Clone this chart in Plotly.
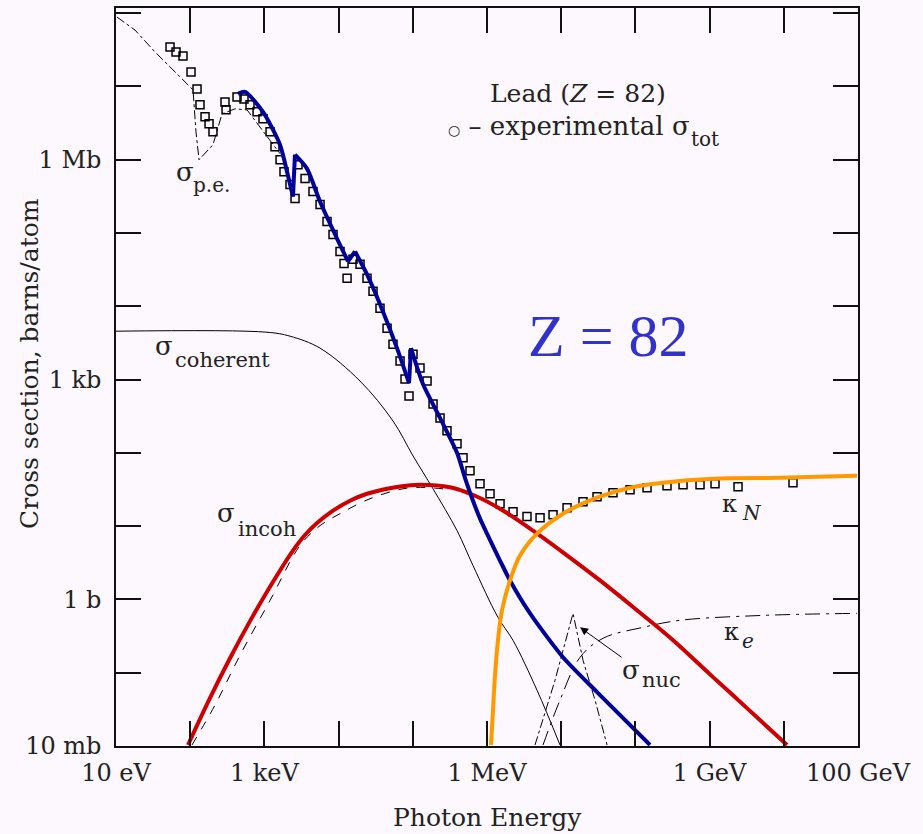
import numpy as np
import plotly.graph_objects as go

# All values are log10(E / eV) and log10(sigma / barn)
tot_fit_logE = [2.644, 2.739, 2.981, 3.210, 3.305, 3.385, 3.412, 3.574, 3.749, 3.978, 4.127,
                4.221, 4.383, 4.558, 4.787, 4.949, 4.976, 5.137, 5.367, 5.596, 5.703, 5.811, 5.906,
                6.000, 6.175, 6.310, 6.580, 7.024, 7.483, 8.197]
tot_fit_logS = [6.898, 6.925, 6.653, 6.204, 5.837, 5.497, 6.068, 5.878, 5.429, 4.925, 4.612,
                4.748, 4.435, 4.027, 3.429, 2.952, 3.429, 2.939, 2.476, 2.000, 1.660, 1.347, 1.102,
                0.898, 0.531, 0.259, -0.190, -0.789, -1.265, -1.986]
# absorption edges (M, L, K): index of the point at the bottom of each edge
edge_bottoms = [5, 10, 15]

incoh_fit_logE = [1.970, 2.253, 2.536, 2.819, 3.102, 3.385, 3.547, 3.709, 3.925, 4.154, 4.383,
                  4.828, 5.097, 5.501, 5.838, 6.175, 6.620, 7.000, 7.523, 8.000, 8.500, 9.046,
                  9.500, 10.043]
incoh_fit_logS = [-1.986, -1.374, -0.803, -0.272, 0.218, 0.667, 0.879, 1.042, 1.211, 1.347, 1.442,
                  1.542, 1.565, 1.531, 1.415, 1.238, 0.939, 0.660, 0.259, -0.130, -0.550, -1.060,
                  -1.480, -1.986]

pair_fit_logE = [6.054, 6.081, 6.108, 6.148, 6.202, 6.310, 6.445, 6.674, 7.024, 7.482, 7.927,
                 8.372, 9.046, 9.949, 10.987]
pair_fit_logS = [-1.986, -1.510, -1.034, -0.558, -0.150, 0.259, 0.599, 0.898, 1.170, 1.388, 1.524,
                 1.592, 1.646, 1.660, 1.687]

coh_logE = [1.0, 3.035, 3.345, 3.749, 4.288, 4.733, 5.003, 5.272, 5.596, 5.811, 6.148, 6.350,
            6.674, 6.984]
coh_logS = [3.660, 3.646, 3.592, 3.429, 2.980, 2.435, 1.959, 1.510, 0.939, 0.463, -0.245, -0.558,
            -1.238, -1.986]

incoh_logE = [2.024, 2.334, 2.671, 3.076, 3.480, 3.750, 4.019, 4.423, 4.963, 5.501]
incoh_logS = [-1.986, -1.442, -0.762, -0.014, 0.735, 1.007, 1.170, 1.374, 1.524, 1.497]

pe_logE = [1.013, 1.256, 1.526, 1.795, 2.038, 2.078, 2.119, 2.307, 2.429, 2.604, 2.766, 2.968, 3.211]
pe_logS = [7.946, 7.769, 7.470, 7.197, 6.953, 6.381, 6.000, 6.204, 6.626, 6.694, 6.680, 6.408, 6.082]

nuc_logE = [6.647, 6.917, 7.159, 7.294, 7.456, 7.618]
nuc_logS = [-1.986, -1.102, -0.190, -0.830, -1.374, -1.986]

ke_logE = [6.755, 6.984, 7.254, 7.564, 8.103, 8.601, 9.720, 10.987]
ke_logS = [-1.986, -1.374, -0.789, -0.530, -0.381, -0.285, -0.218, -0.190]

exp_logE = [1.728, 1.809, 1.903, 2.011, 2.092, 2.132, 2.200, 2.254, 2.307, 2.469, 2.483, 2.631,
            2.725, 2.806, 2.901, 2.981, 3.076, 3.143, 3.211, 3.264, 3.345, 3.413, 3.453, 3.548,
            3.655, 3.750, 3.844, 3.925, 4.019, 4.073, 4.114, 4.194, 4.289, 4.383, 4.464, 4.558,
            4.653, 4.733, 4.828, 4.895, 4.949, 5.003, 5.097, 5.192, 5.273, 5.367, 5.461, 5.596,
            5.677, 5.771, 5.906, 6.041, 6.176, 6.351, 6.539, 6.715, 6.890, 7.079, 7.294, 7.483,
            7.698, 7.928, 8.157, 8.426, 8.642, 8.871, 9.073, 9.383, 10.124]
exp_logS = [7.537, 7.470, 7.415, 7.197, 6.966, 6.749, 6.585, 6.490, 6.381, 6.789, 6.681, 6.857,
            6.830, 6.749, 6.653, 6.558, 6.381, 6.177, 6.000, 5.837, 5.660, 5.470, 5.932, 5.742,
            5.565, 5.388, 5.157, 4.980, 4.749, 4.585, 4.381, 4.640, 4.572, 4.381, 4.204, 3.973,
            3.701, 3.483, 3.252, 3.007, 2.776, 3.347, 3.157, 2.980, 2.667, 2.477, 2.300, 2.123,
            1.932, 1.755, 1.579, 1.443, 1.306, 1.198, 1.130, 1.116, 1.157, 1.252, 1.334, 1.402,
            1.456, 1.497, 1.524, 1.551, 1.565, 1.565, 1.579, 1.538, 1.592]

x_tick_vals = [1e1, 1e2, 1e3, 1e4, 1e5, 1e6, 1e7, 1e8, 1e9, 1e10, 1e11]
x_tick_text = ["10 eV", "", "1 keV", "", "", "1 MeV", "", "", "1 GeV", "", "100 GeV"]
y_tick_vals = [1e-2, 1e-1, 1e0, 1e1, 1e2, 1e3, 1e4, 1e5, 1e6, 1e7, 1e8]
y_tick_text = ["10 mb", "", "1 b", "", "", "1 kb", "", "", "1 Mb", "", ""]


def p(a):
    return 10 ** np.array(a)


SERIF = "DejaVu Serif"
BG = "#fdf8fd"
BLUE = "#000096"

fig = go.Figure()

thin = dict(color="black", width=1)
fig.add_trace(go.Scatter(x=p(coh_logE), y=p(coh_logS), mode="lines", line=dict(thin, shape="spline"),
                         name="coherent"))
fig.add_trace(go.Scatter(x=p(incoh_logE), y=p(incoh_logS), mode="lines",
                         line=dict(thin, dash="dash", shape="spline"), name="incoh"))
fig.add_trace(go.Scatter(x=p(pe_logE), y=p(pe_logS), mode="lines",
                         line=dict(thin, dash="dashdot"), name="p.e."))
fig.add_trace(go.Scatter(x=p(nuc_logE), y=p(nuc_logS), mode="lines",
                         line=dict(thin, dash="dashdot"), name="nuc"))
fig.add_trace(go.Scatter(x=p(ke_logE), y=p(ke_logS), mode="lines",
                         line=dict(thin, dash="longdashdot", shape="spline"), name="kappa_e"))
fig.add_trace(go.Scatter(x=p(exp_logE), y=p(exp_logS), mode="markers",
                         marker=dict(symbol="square-open", size=8, color="black", line=dict(width=1.5)),
                         name="experimental"))
fig.add_trace(go.Scatter(x=p(incoh_fit_logE), y=p(incoh_fit_logS), mode="lines",
                         line=dict(color="#cc0000", width=4, shape="spline", smoothing=1.0),
                         name="incoh fit"))

# blue curve: smooth pieces between the absorption edges, straight jumps at the edges
starts = [0] + [b + 1 for b in edge_bottoms]
ends = edge_bottoms + [len(tot_fit_logE) - 1]
for s, e in zip(starts, ends):
    fig.add_trace(go.Scatter(x=p(tot_fit_logE[s:e + 1]), y=p(tot_fit_logS[s:e + 1]), mode="lines",
                             line=dict(color=BLUE, width=4, shape="spline", smoothing=0.7),
                             name="p.e. fit"))
for b in edge_bottoms:
    fig.add_trace(go.Scatter(x=p(tot_fit_logE[b:b + 2]), y=p(tot_fit_logS[b:b + 2]), mode="lines",
                             line=dict(color=BLUE, width=4), name="edge"))

fig.add_trace(go.Scatter(x=p(pair_fit_logE), y=p(pair_fit_logS), mode="lines",
                         line=dict(color="#ff9900", width=4, shape="spline"), name="pair fit"))

ann = []


def lab(x, y, text, size, anchor="left", italic=False, color="#222222", font=SERIF):
    ann.append(dict(x=x, y=y, xref="x", yref="y", text=text, showarrow=False,
                    xanchor=anchor, yanchor="middle",
                    font=dict(family=font, size=size, color=color,
                              style="italic" if italic else "normal")))


lab(1.782, 5.837, "σ", 26)
lab(2.011, 5.660, "p.e.", 20)
lab(1.499, 3.456, "σ", 26)
lab(1.768, 3.266, "coherent", 21)
lab(2.334, 1.184, "σ", 26)
lab(2.617, 0.966, "incoh", 21)
lab(9.140, 1.306, "κ", 24)
lab(9.410, 1.184, "N", 20, italic=True)
lab(9.167, -0.449, "κ", 24)
lab(9.410, -0.571, "e", 20, italic=True)
lab(7.792, -0.966, "σ", 26)
lab(8.062, -1.102, "nuc", 21)
lab(7.226, 6.898, "Lead (<i>Z</i> = 82)", 25, anchor="center")
lab(5.447, 6.460, "<span style='font-size:14px'>○</span> – experimental σ", 26)
lab(8.720, 6.286, "tot", 20)
lab(7.631, 3.592, "Z = 82", 60, anchor="center", color="#3232c8", font="Liberation Serif")

# arrow from the sigma_nuc label to the giant-resonance peak
ann.append(dict(x=7.254, y=-0.381, xref="x", yref="y", ax=43, ay=31, text="",
                showarrow=True, arrowhead=2, arrowsize=1.6, arrowwidth=1, arrowcolor="black"))

ann.append(dict(x=-0.116, y=0.519, xref="paper", yref="paper", text="Cross section, barns/atom",
                textangle=-90, showarrow=False, xanchor="center", yanchor="middle",
                font=dict(family=SERIF, size=25, color="#222222")))
ann.append(dict(x=0.5, y=-0.097, xref="paper", yref="paper", text="Photon Energy",
                showarrow=False, xanchor="center", yanchor="middle",
                font=dict(family=SERIF, size=25, color="#222222")))

axis_common = dict(showline=True, linecolor="#111111", linewidth=1.5, mirror="ticks",
                   ticks="inside", ticklen=25, tickwidth=1.5, tickcolor="#111111",
                   showgrid=False, zeroline=False,
                   tickfont=dict(family=SERIF, size=24, color="#222222"))

fig.update_layout(
    width=923, height=834,
    margin=dict(l=116, r=65, t=6, b=88),
    paper_bgcolor=BG, plot_bgcolor=BG,
    showlegend=False,
    annotations=ann,
    xaxis=dict(axis_common, type="log", range=[1, 11], tickvals=x_tick_vals, ticktext=x_tick_text,
               ticklabelstandoff=4),
    yaxis=dict(axis_common, type="log", range=[-2, 8.07], tickvals=y_tick_vals, ticktext=y_tick_text,
               ticklabelstandoff=8),
)

fig.write_html("out.html", config={"displayModeBar": False},
               post_script="document.body.style.margin='0px';")
